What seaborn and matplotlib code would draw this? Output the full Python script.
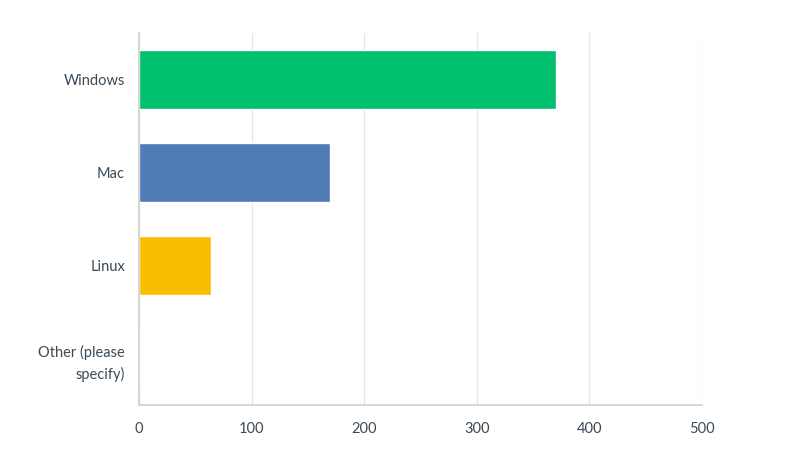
import numpy as np
import pandas as pd
import seaborn as sns
import matplotlib.pyplot as plt

categories = ["Windows", "Mac", "Linux", "Other (please\nspecify)"]
counts = [370, 170, 64, 0]
bar_colors = ["#00BF6F", "#507CB6", "#F9BE00", "#9E9E9E"]
x_ticks = [0, 100, 200, 300, 400, 500]


def main():
    sns.set_theme(style="white")
    plt.rcParams['font.family'] = ['Lato', 'DejaVu Sans']

    df = pd.DataFrame({"os": categories, "count": counts})

    fig = plt.figure(figsize=(8.02, 4.65), dpi=100)
    ax = fig.add_axes([139 / 802, 1 - 405 / 465, (702 - 139) / 802, (405 - 33) / 465])

    sns.barplot(data=df, x="count", y="os", hue="os", palette=bar_colors,
                legend=False, width=0.645, saturation=1, ax=ax, zorder=3)

    ax.set_xlim(0, 500)
    ax.set_ylim(3.5, -0.5)
    ax.set_xticks(x_ticks)
    ax.grid(axis="x", color="#e6e6e6", linewidth=1, zorder=0)
    ax.set_xlabel("")
    ax.set_ylabel("")

    for s in ["top", "right"]:
        ax.spines[s].set_visible(False)
    for s in ["left", "bottom"]:
        ax.spines[s].set_color("#d0d0d0")
        ax.spines[s].set_linewidth(1.2)
        ax.spines[s].set_zorder(4)

    ax.tick_params(axis="both", length=0, labelsize=10.5, colors="#3b4a57")
    ax.tick_params(axis="x", pad=12)
    ax.tick_params(axis="y", pad=10)
    for lbl in ax.get_yticklabels():
        lbl.set_horizontalalignment("right")
        lbl.set_multialignment("right")
        lbl.set_linespacing(1.55)

    fig.savefig("out.png", dpi=100)


main()
